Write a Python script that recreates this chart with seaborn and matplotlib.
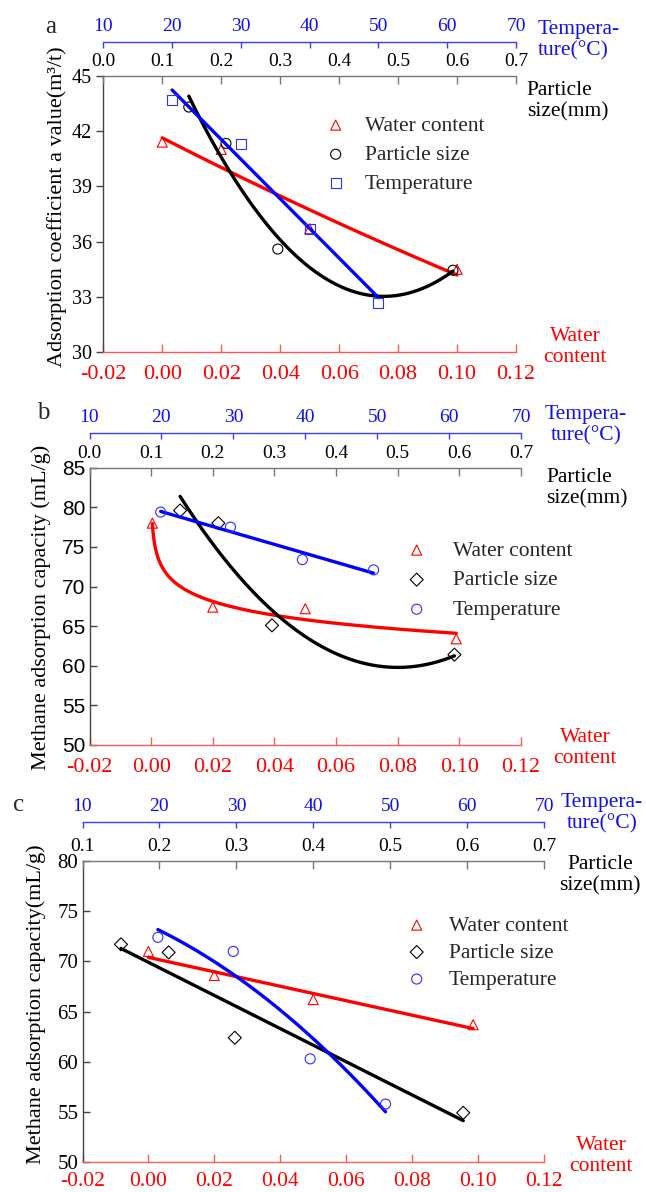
import numpy as np
import matplotlib
matplotlib.use("Agg")
import matplotlib.pyplot as plt
import seaborn as sns

# ---------------- data ----------------
# Panel a : adsorption coefficient a value (m3/t)
a_water = [0.0, 0.02, 0.05, 0.10]
a_water_val = [41.4, 41.0, 36.7, 34.5]
a_particle = [0.145, 0.208, 0.296, 0.593]
a_particle_val = [43.3, 41.33, 35.6, 34.45]
a_temp = [20, 30, 40, 50]
a_temp_val = [43.68, 41.3, 36.7, 32.7]

# Panel b : methane adsorption capacity (mL/g)
b_water = [0.0004, 0.02, 0.05, 0.099]
b_water_val = [78.0, 67.4, 67.2, 63.4]
b_particle = [0.147, 0.209, 0.296, 0.592]
b_particle_val = [79.6, 78.0, 65.1, 61.4]
b_temp = [19.9, 29.6, 39.6, 49.5]
b_temp_val = [79.4, 77.5, 73.4, 72.1]

# Panel c : methane adsorption capacity (mL/g)
c_water = [0.0, 0.02, 0.05, 0.0985]
c_water_val = [71.0, 68.6, 66.2, 63.7]
c_particle = [0.15, 0.212, 0.298, 0.595]
c_particle_val = [71.7, 70.9, 62.4, 54.93]
c_temp = [19.8, 29.6, 39.6, 49.4]
c_temp_val = [72.4, 71.0, 60.3, 55.8]

series_labels = ["Water content", "Particle size", "Temperature"]
water_ticks = [-0.02, 0.00, 0.02, 0.04, 0.06, 0.08, 0.10, 0.12]
temp_ticks = [10, 20, 30, 40, 50, 60, 70]

# ---------------- style ----------------
sns.set_theme(style="white")
plt.rcParams["font.family"] = ["Liberation Serif", "DejaVu Serif"]
plt.rcParams["axes.unicode_minus"] = False

W, H = 646, 1192
fig = plt.figure(figsize=(W / 100, H / 100), dpi=100)
fig.patch.set_facecolor("white")

RED = "#ff0000"
RED_AX = "#ff5a5a"
BLUE = "#0000ff"
BLUE_AX = "#3c3cff"
BLUE_TXT = "#1010ee"
GRAY = "#777777"
DARK = "#444444"
LEG_FS = 15.5


def fx(px):
    return px / W


def fy(py):
    return 1 - py / H


def fit_curve(x, y, kind, n=300):
    x = np.asarray(x, float)
    y = np.asarray(y, float)
    if kind == "lin":
        c = np.polyfit(x, y, 1)
        xs = np.linspace(x.min(), x.max(), n)
        return xs, np.polyval(c, xs)
    if kind == "poly2":
        c = np.polyfit(x, y, 2)
        xs = np.linspace(x.min(), x.max(), n)
        return xs, np.polyval(c, xs)
    if kind == "exp":
        c = np.polyfit(x, np.log(y), 1)
        xs = np.linspace(x.min(), x.max(), n)
        return xs, np.exp(np.polyval(c, xs))
    if kind == "log":
        c = np.polyfit(np.log(x), y, 1)
        xs = np.geomspace(x.min(), x.max(), n)
        return xs, np.polyval(c, np.log(xs))


panels = [
    dict(
        box=(103.3, 516, 75.7, 352.3), ylim=(30, 45), yticks=np.arange(30, 46, 3),
        plim=(0.0, 0.7), pticks=np.round(np.arange(0, 0.71, 0.1), 1), tgap=24,
        ydir="out", yfont="Liberation Serif", yfs=14.5, wpad=9.5, wfs=16,
        data=[(a_water, a_water_val, "exp", "^"),
              (a_particle, a_particle_val, "poly2", "o"),
              (a_temp, a_temp_val, "lin", "s")],
        ylabel="Adsorption coefficient a value(m³/t)", ylab_xy=(57, 207),
        letter="a", letter_xy=(51, 27),
        legend=(326, 115.7, 0.9, 0.42),
        temp_lab=(537.7, 40, "left"), part_lab=(526.7, 101.5, "left"),
        water_lab=(575, 347),
    ),
    dict(
        box=(89.5, 521, 467.7, 745), ylim=(50, 85), yticks=np.arange(50, 86, 5),
        plim=(0.0, 0.7), pticks=np.round(np.arange(0, 0.71, 0.1), 1), tgap=24.8,
        ydir="in", yfont="Liberation Sans", yfs=15, wpad=9.5, wfs=16,
        data=[(b_water, b_water_val, "log", "^"),
              (b_particle, b_particle_val, "poly2", "D"),
              (b_temp, b_temp_val, "lin", "o")],
        ylabel="Methane adsorption capacity (mL/g)", ylab_xy=(41, 607),
        letter="b", letter_xy=(43, 413),
        legend=(407, 540.7, 1.22, 0.44),
        temp_lab=(586, 425, "center"), part_lab=(546.5, 488, "left"),
        water_lab=(585, 748),
    ),
    dict(
        box=(82.5, 544, 861, 1162.3), ylim=(50, 80), yticks=np.arange(50, 81, 5),
        plim=(0.1, 0.7), pticks=np.round(np.arange(0.1, 0.71, 0.1), 1), tgap=28,
        ydir="in", yfont="Liberation Serif", yfs=15, wpad=7, wfs=15.5,
        data=[(c_water, c_water_val, "lin", "^"),
              (c_particle, c_particle_val, "lin", "D"),
              (c_temp, c_temp_val, "poly2", "o")],
        ylabel="Methane adsorption capacity(mL/g)", ylab_xy=(36, 1004),
        letter="c", letter_xy=(18.5, 805),
        legend=(407, 915.7, 1.04, 0.32),
        temp_lab=(602, 813, "center"), part_lab=(600, 875.5, "center"),
        water_lab=(601, 1156),
    ),
]

line_colors = [RED, "black", BLUE]
mark_colors = [RED, "black", "#2d2dff"]
TICK_FS = 14

for P in panels:
    l, r, t, b = P["box"]
    ax = fig.add_axes([fx(l), fy(b), fx(r) - fx(l), fy(t) - fy(b)])
    axp = ax.twiny()
    axt = ax.twiny()
    ax.set_xlim(-0.02, 0.12)
    ax.set_ylim(*P["ylim"])
    axp.set_xlim(*P["plim"])
    axt.set_xlim(10, 70)

    # spines
    for s in ["top", "right"]:
        ax.spines[s].set_visible(False)
    ax.spines["left"].set_color(DARK)
    ax.spines["bottom"].set_color(RED_AX)
    for a_ in (axp, axt):
        for s in ["left", "right", "bottom"]:
            a_.spines[s].set_visible(False)
    axp.spines["top"].set_color(GRAY)
    axt.spines["top"].set_color(BLUE_AX)
    axt.spines["top"].set_position(("outward", P["tgap"]))
    for a_ in (ax, axp, axt):
        for s in a_.spines.values():
            s.set_linewidth(1.0)

    # ticks
    ax.set_xticks(water_ticks)
    ax.set_xticklabels([f"{v:.2f}" for v in water_ticks])
    ax.tick_params(axis="x", direction="in", length=6, width=1, color=RED_AX,
                   labelcolor=RED, labelsize=P["wfs"], pad=P["wpad"], bottom=True, top=False)
    ax.set_yticks(P["yticks"])
    ax.set_yticklabels([str(int(v)) for v in P["yticks"]], family=P["yfont"])
    ax.tick_params(axis="y", direction=P["ydir"], length=5, width=1, color=DARK,
                   labelcolor="black", labelsize=P["yfs"], pad=3, left=True, right=False)

    axp.set_xticks(P["pticks"])
    axp.set_xticklabels([f"{v:.1f}" for v in P["pticks"]])
    axp.tick_params(axis="x", direction="in", length=6, width=1, color=GRAY,
                    labelcolor="black", labelsize=TICK_FS, pad=4, top=True, bottom=False)
    axt.set_xticks(temp_ticks)
    axt.set_xticklabels([str(v) for v in temp_ticks])
    axt.tick_params(axis="x", direction="in", length=4.5, width=1, color=BLUE_AX,
                    labelcolor=BLUE_TXT, labelsize=TICK_FS, pad=5, top=True, bottom=False)
    for a_ in (axp, axt):
        a_.tick_params(axis="y", left=False, right=False, labelleft=False, labelright=False)
        a_.set_ylim(*P["ylim"])

    # data + fits
    targets = [ax, axp, axt]
    handles = []
    for k, (xv, yv, kind, mk) in enumerate(P["data"]):
        tgt = targets[k]
        xs, ys = fit_curve(xv, yv, kind)
        sns.lineplot(x=xs, y=ys, ax=tgt, color=line_colors[k], lw=2.4,
                     sort=False, legend=False, zorder=3)
        msize = 52 if mk != "D" else 44
        sns.scatterplot(x=xv, y=yv, ax=tgt, marker=mk, s=msize, facecolor="none",
                        edgecolor=mark_colors[k], linewidth=0.8, legend=False,
                        label=series_labels[k], zorder=4)
        handles.append(tgt.collections[-1])
    for a_ in targets:
        a_.set_xlabel("")
        a_.set_ylabel("")

    lx, ly, htp, lsp = P["legend"]
    axt.legend(handles, series_labels, loc="upper left",
               bbox_to_anchor=(fx(lx), fy(ly)), bbox_transform=fig.transFigure,
               frameon=False, handlelength=0.9, handletextpad=htp, labelspacing=lsp,
               borderpad=0, borderaxespad=0, scatterpoints=1, fontsize=LEG_FS)

    # side labels
    tx, ty, tha = P["temp_lab"]
    fig.text(fx(tx), fy(ty), "Tempera-\nture(°C)", color=BLUE_TXT, fontsize=15.5,
             ha=tha, va="center", multialignment=tha, linespacing=1.15)
    px_, py_, pha = P["part_lab"]
    fig.text(fx(px_), fy(py_), "Particle\nsize(mm)", color="black", fontsize=15.5,
             ha=pha, va="center", multialignment=pha, linespacing=1.15)
    wx, wy = P["water_lab"]
    fig.text(fx(wx), fy(wy), "Water\ncontent", color=RED, fontsize=15.5,
             ha="center", va="center", multialignment="center", linespacing=1.15)
    yx, yy = P["ylab_xy"]
    fig.text(fx(yx), fy(yy), P["ylabel"], rotation=90, fontsize=16,
             ha="center", va="center", color="black")
    lx2, ly2 = P["letter_xy"]
    fig.text(fx(lx2), fy(ly2), P["letter"], fontsize=18, ha="center", va="center")

fig.savefig("out.png", dpi=100, facecolor="white")
